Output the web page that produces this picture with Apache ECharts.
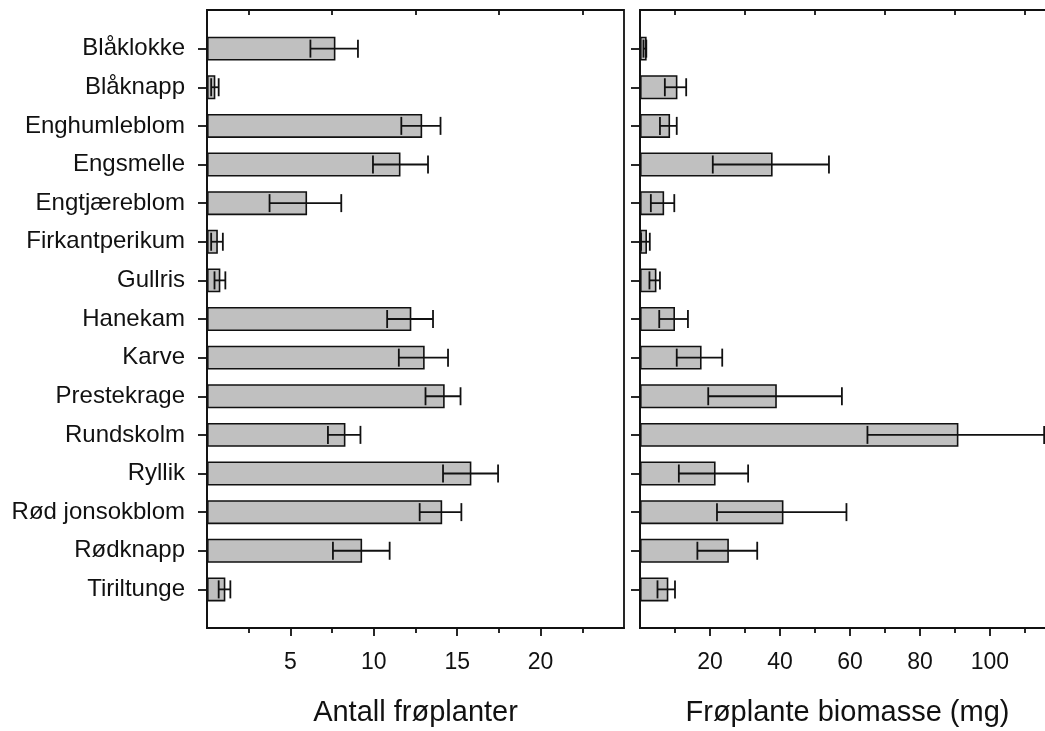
<!DOCTYPE html>
<html>
<head>
<meta charset="utf-8">
<script src="https://cdn.jsdelivr.net/npm/echarts@6/dist/echarts.min.js"></script>
<style>
  html, body { margin: 0; padding: 0; background: #fff; }
  #chart { width: 1045px; height: 731px; }
</style>
</head>
<body>
<div id="chart"></div>
<script>
  // arter (ovenfra og ned)
  var categories = ['Blåklokke', 'Blåknapp', 'Enghumleblom', 'Engsmelle', 'Engtjæreblom',
    'Firkantperikum', 'Gullris', 'Hanekam', 'Karve', 'Prestekrage', 'Rundskolm', 'Ryllik',
    'Rød jonsokblom', 'Rødknapp', 'Tiriltunge'];

  // antall frøplanter: middel og feilstolpe (nedre / øvre)
  var seedlingMean = [7.7, 0.5, 12.9, 11.6, 6.0, 0.65, 0.8, 12.25, 13.05, 14.25, 8.3, 15.85, 14.1, 9.3, 1.1];
  var seedlingLow = [6.2, 0.25, 11.65, 9.95, 3.75, 0.25, 0.45, 10.8, 11.5, 13.1, 7.25, 14.15, 12.75, 7.55, 0.7];
  var seedlingHigh = [9.05, 0.7, 14.0, 13.25, 8.05, 0.95, 1.1, 13.55, 14.45, 15.2, 9.2, 17.45, 15.25, 10.95, 1.4];

  // frøplante biomasse (mg)
  var biomassMean = [1.9, 10.7, 8.6, 37.9, 6.9, 2.0, 4.7, 10.0, 17.6, 39.1, 91.0, 21.6, 41.0, 25.4, 8.1];
  var biomassLow = [1.0, 7.1, 5.7, 20.8, 3.1, 0.3, 2.7, 5.5, 10.5, 19.5, 65.0, 11.1, 22.0, 16.4, 5.0];
  var biomassHigh = [1.8, 13.2, 10.5, 54.0, 9.8, 2.8, 5.7, 13.7, 23.5, 57.7, 115.5, 30.9, 59.0, 33.5, 10.0];

  // akser
  var seedlingLabels = [5, 10, 15, 20];
  var seedlingMinor = [2.5, 7.5, 12.5, 17.5, 22.5];
  var biomassLabels = [20, 40, 60, 80, 100];
  var biomassMinor = [10, 30, 50, 70, 90, 110];

  var ink = '#111';
  var font = '"Liberation Sans", Arial, sans-serif';

  // tom kategori øverst og nederst gir luft over første og under siste stolpe
  var padded = [''].concat(categories, ['']);
  function padNull(arr) {
    return [null].concat(arr, [null]);
  }
  function errData(low, high) {
    return categories.map(function (c, i) { return [c, low[i], high[i]]; });
  }

  function renderErrorBar(params, api) {
    var y = api.value(0);
    var lo = api.coord([api.value(1), y]);
    var hi = api.coord([api.value(2), y]);
    var cap = 9;
    var style = { stroke: ink, lineWidth: 1.8 };
    return {
      type: 'group',
      children: [
        { type: 'line', shape: { x1: lo[0], y1: lo[1], x2: hi[0], y2: hi[1] }, style: style },
        { type: 'line', shape: { x1: lo[0], y1: lo[1] - cap, x2: lo[0], y2: lo[1] + cap }, style: style },
        { type: 'line', shape: { x1: hi[0], y1: hi[1] - cap, x2: hi[0], y2: hi[1] + cap }, style: style }
      ]
    };
  }

  function valueAxes(gridIndex, max, labels, minor, name) {
    return [{
      // hovedmerker med tall
      type: 'value', gridIndex: gridIndex, position: 'bottom', min: 0, max: max,
      axisLine: { show: true, lineStyle: { color: ink, width: 1.8 } },
      axisTick: { show: true, customValues: labels, length: 8, lineStyle: { color: ink, width: 1.8 } },
      axisLabel: { show: true, customValues: labels, margin: 23, fontSize: 23, color: ink, fontFamily: font },
      splitLine: { show: false },
      name: name, nameLocation: 'middle', nameGap: 70,
      nameTextStyle: { fontSize: 29, color: ink, fontFamily: font }
    }, {
      // småmerker nederst
      type: 'value', gridIndex: gridIndex, position: 'bottom', min: 0, max: max,
      axisLine: { show: false },
      axisTick: { show: true, customValues: minor, length: 5, lineStyle: { color: ink, width: 1.8 } },
      axisLabel: { show: false },
      splitLine: { show: false }
    }, {
      // småmerker øverst, innover
      type: 'value', gridIndex: gridIndex, position: 'top', min: 0, max: max,
      axisLine: { show: false },
      axisTick: { show: true, inside: true, customValues: minor, length: 5, lineStyle: { color: ink, width: 1.8 } },
      axisLabel: { show: false },
      splitLine: { show: false }
    }];
  }

  function categoryAxis(gridIndex, showLabels) {
    return {
      type: 'category', gridIndex: gridIndex, data: padded, inverse: true, boundaryGap: false,
      axisLine: { show: true, lineStyle: { color: ink, width: 1.8 } },
      axisTick: {
        show: true, length: 9, lineStyle: { color: ink, width: 1.8 },
        interval: function (index, value) { return value !== ''; }
      },
      axisLabel: { show: showLabels, interval: 0, margin: 22, fontSize: 24, color: ink, fontFamily: font },
      splitLine: { show: false }
    };
  }

  var chart = echarts.init(document.getElementById('chart'));
  var option = {
    animation: false,
    backgroundColor: '#fff',
    grid: [
      { left: 207, top: 10, width: 417, height: 618, show: true, borderColor: ink, borderWidth: 1.8,
        outerBoundsMode: 'none' },
      // høyre panel fortsetter forbi bildekanten
      { left: 640, top: 10, width: 415, height: 618, show: true, borderColor: ink, borderWidth: 1.8,
        outerBoundsMode: 'none' }
    ],
    xAxis: valueAxes(0, 25, seedlingLabels, seedlingMinor, 'Antall frøplanter')
      .concat(valueAxes(1, 118.6, biomassLabels, biomassMinor, 'Frøplante biomasse (mg)')),
    yAxis: [categoryAxis(0, true), categoryAxis(1, false)],
    series: [{
      name: 'Antall frøplanter',
      type: 'bar',
      xAxisIndex: 0,
      yAxisIndex: 0,
      data: padNull(seedlingMean),
      barWidth: 24,
      itemStyle: { color: '#c0c0c0', borderColor: ink, borderWidth: 1.6 }
    }, {
      name: 'Frøplante biomasse',
      type: 'bar',
      xAxisIndex: 3,
      yAxisIndex: 1,
      data: padNull(biomassMean),
      barWidth: 24,
      itemStyle: { color: '#c0c0c0', borderColor: ink, borderWidth: 1.6 }
    }, {
      type: 'custom',
      xAxisIndex: 0,
      yAxisIndex: 0,
      renderItem: renderErrorBar,
      encode: { x: [1, 2], y: 0 },
      data: errData(seedlingLow, seedlingHigh),
      z: 5
    }, {
      type: 'custom',
      xAxisIndex: 3,
      yAxisIndex: 1,
      renderItem: renderErrorBar,
      encode: { x: [1, 2], y: 0 },
      data: errData(biomassLow, biomassHigh),
      z: 5
    }]
  };
  chart.setOption(option);
</script>
</body>
</html>
